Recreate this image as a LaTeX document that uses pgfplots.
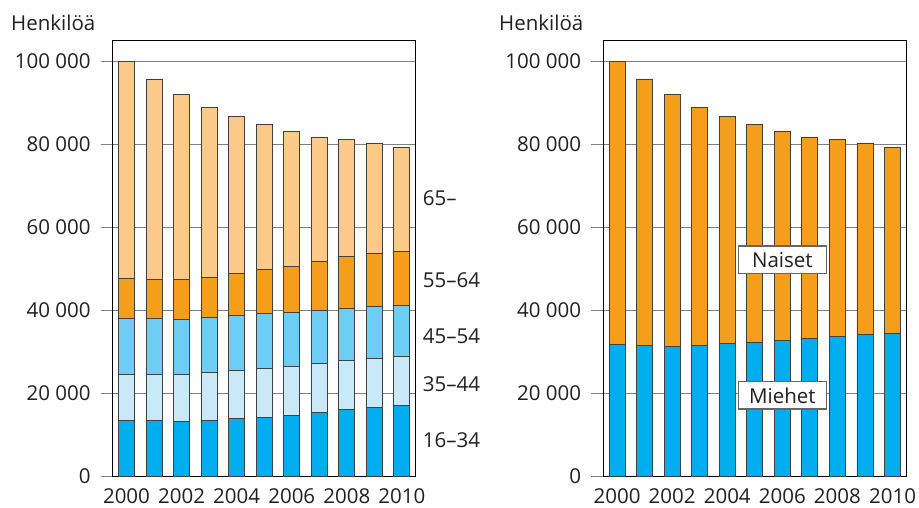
\documentclass[border=0pt]{standalone}
\usepackage{fontspec}
\setmainfont{Open Sans}
\usepackage{pgfplots}
\usepackage{pgfplotstable}
\pgfplotsset{compat=1.18}

\definecolor{dblue}{HTML}{00AEEF}
\definecolor{mblue}{HTML}{6DCDF5}
\definecolor{lblue}{HTML}{C9E9F9}
\definecolor{orng}{HTML}{F59E1C}
\definecolor{lorng}{HTML}{FDCA8A}
\definecolor{txt}{HTML}{231F20}

% age groups, stacked from the bottom
\pgfplotstableread{
year a1634 a3544 a4554 a5564 a65
2000 13420 11230 13350  9640 52360
2001 13420 11160 13420  9540 48200
2002 13250 11250 13400  9570 44500
2003 13570 11420 13400  9640 40810
2004 13900 11560 13410 10050 37750
2005 14300 11720 13180 10680 34860
2006 14780 11810 12930 11080 32530
2007 15420 11890 12690 11730 30040
2008 16140 11810 12610 12380 28180
2009 16630 11800 12530 12770 26590
2010 17110 11730 12290 13010 25050
}\agedata

% men / women
\pgfplotstableread{
year miehet naiset
2000 31810 68190
2001 31570 64170
2002 31400 60570
2003 31640 57200
2004 31980 54690
2005 32220 52520
2006 32700 50430
2007 33180 48590
2008 33730 47390
2009 34290 46030
2010 34530 44660
}\sexdata

\pgfplotsset{
  panel/.style={
    scale only axis, width=303pt, height=436pt,
    anchor=south west, clip=false,
    xmin=1999.5, xmax=2010.5, ymin=0, ymax=105000,
    ybar stacked, bar width=16pt,
    xtick={2000,2002,2004,2006,2008,2010},
    xticklabels={2000,2002,2004,2006,2008,2010},
    ytick={0,20000,40000,60000,80000,100000},
    yticklabels={0,20 000,40 000,60 000,80 000,100 000},
    scaled y ticks=false,
    ytick pos=left, tick align=outside, major tick length=12pt,
    xtick style={draw=none},
    ytick style={black!50, line width=1.5pt},
    ymajorgrids, grid style={black!50, line width=1.5pt},
    axis line style={black, line width=1.3pt},
    xticklabel style={anchor=north, inner sep=0pt, text=txt},
    yticklabel style={anchor=east, inner sep=0pt, text=txt, xshift=-10pt},
    every axis plot/.append style={draw=black!75, line width=0.9pt},
  },
}
\tikzset{
  lab/.style={anchor=west, inner sep=0pt, text=txt, xshift=7pt},
  tag/.style={draw=black!60, line width=1.5pt, fill=white, text=txt,
    minimum width=88pt, minimum height=27.5pt, inner sep=0pt},
}

\begin{document}
\fontsize{20.5}{24}\selectfont
\begin{tikzpicture}
\useasboundingbox (0,0) rectangle (919pt,507pt);

\begin{axis}[panel, at={(112.7pt,30.5pt)}]
\addplot[fill=dblue] table[x=year,y=a1634]{\agedata};
\addplot[fill=lblue] table[x=year,y=a3544]{\agedata};
\addplot[fill=mblue] table[x=year,y=a4554]{\agedata};
\addplot[fill=orng] table[x=year,y=a5564]{\agedata};
\addplot[fill=lorng] table[x=year,y=a65]{\agedata};
\node[lab] at (axis cs:2010.5,67100) {65–};
\node[lab] at (axis cs:2010.5,47280) {55–64};
\node[lab] at (axis cs:2010.5,33780) {45–54};
\node[lab] at (axis cs:2010.5,22130) {35–44};
\node[lab] at (axis cs:2010.5,8800) {16–34};
\end{axis}

\begin{axis}[panel, at={(603.3pt,30.5pt)}]
\addplot[fill=dblue] table[x=year,y=miehet]{\sexdata};
\addplot[fill=orng] table[x=year,y=naiset]{\sexdata};
\coordinate (naiset) at (axis cs:2006,52170);
\coordinate (miehet) at (axis cs:2006,19520);
\end{axis}
\node[tag] at (naiset) {Naiset};
\node[tag] at (miehet) {Miehet};

\node[anchor=base west, inner sep=0pt, text=txt] at (11pt,476.3pt) {Henkilöä};
\node[anchor=base west, inner sep=0pt, text=txt] at (499pt,476.3pt) {Henkilöä};
\end{tikzpicture}
\end{document}
